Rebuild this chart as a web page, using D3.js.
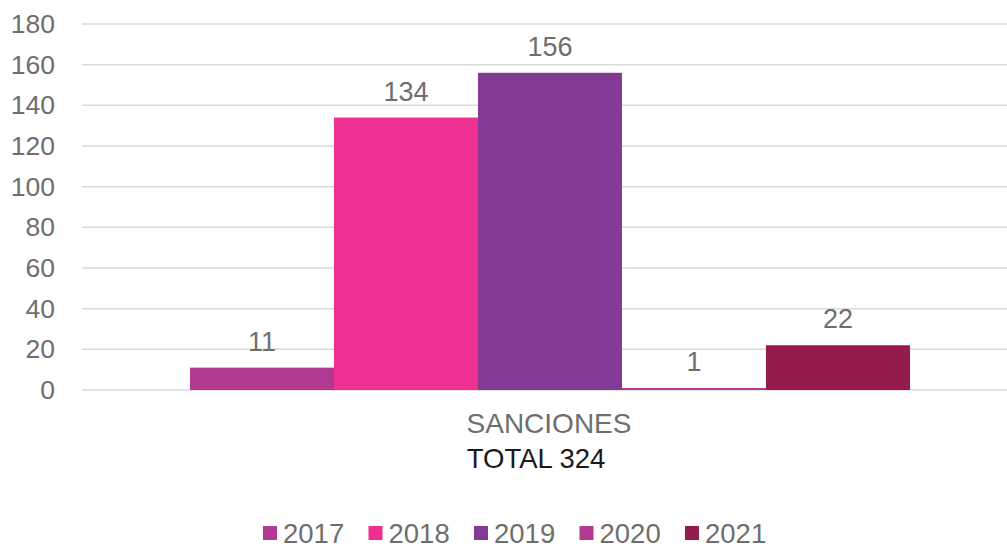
<!DOCTYPE html>
<html>
<head>
<meta charset="utf-8">
<script src="https://cdn.jsdelivr.net/npm/d3@7"></script>
<style>
  body { margin: 0; background: #fff; }
  svg { display: block; font-family: "Liberation Sans", Arial, sans-serif; }
</style>
</head>
<body>
<svg id="chart" width="1007" height="546"></svg>
<script>
const years = ["2017", "2018", "2019", "2020", "2021"];
const values = [11, 134, 156, 1, 22];
const colors = ["#B33A93", "#EE3190", "#833A94", "#B33A93", "#951B4F"];
const yTicks = [0, 20, 40, 60, 80, 100, 120, 140, 160, 180];
const category = "SANCIONES";
const totalLabel = "TOTAL 324";

const svg = d3.select("#chart");
const textColor = "#6e6e6e";

const y = d3.scaleLinear().domain([0, 180]).range([390, 24]);
const x = d3.scaleBand().domain(years).range([190, 910]).padding(0);

// Gridlines
svg.append("g")
    .selectAll("line")
    .data(yTicks)
    .join("line")
    .attr("x1", 82)
    .attr("x2", 1007)
    .attr("y1", d => y(d))
    .attr("y2", d => y(d))
    .attr("stroke", "#d9d9d9")
    .attr("stroke-width", 1.5);

// Y axis labels
const yAxis = svg.append("g")
    .attr("transform", "translate(55,0)")
    .call(d3.axisLeft(y).tickValues(yTicks).tickSize(0).tickPadding(0));
yAxis.select(".domain").remove();
yAxis.selectAll("text")
    .attr("fill", textColor)
    .style("font-size", "26.5px")
    .style("font-family", "'Liberation Sans', Arial, sans-serif");

// Bars
svg.append("g")
    .selectAll("rect")
    .data(years)
    .join("rect")
    .attr("x", d => x(d))
    .attr("width", x.bandwidth())
    .attr("y", (d, i) => y(values[i]))
    .attr("height", (d, i) => y(0) - y(values[i]))
    .attr("fill", (d, i) => colors[i]);

// Value labels
svg.append("g")
    .selectAll("text")
    .data(years)
    .join("text")
    .attr("x", d => x(d) + x.bandwidth() / 2)
    .attr("y", (d, i) => y(values[i]) - 17)
    .attr("text-anchor", "middle")
    .attr("fill", textColor)
    .style("font-size", "27px")
    .text((d, i) => values[i]);

// Category labels
svg.append("text")
    .attr("x", 549)
    .attr("y", 433)
    .attr("text-anchor", "middle")
    .attr("fill", textColor)
    .style("font-size", "28px")
    .text(category);

svg.append("text")
    .attr("x", 536)
    .attr("y", 468)
    .attr("text-anchor", "middle")
    .attr("fill", "#1a1a1a")
    .style("font-size", "27.5px")
    .text(totalLabel);

// Legend
const legend = svg.append("g")
    .selectAll("g")
    .data(years)
    .join("g")
    .attr("transform", (d, i) => `translate(${263 + i * 105.5},526)`);

legend.append("rect")
    .attr("width", 14)
    .attr("height", 14)
    .attr("fill", (d, i) => colors[i]);

legend.append("text")
    .attr("x", 20)
    .attr("y", 17)
    .attr("fill", textColor)
    .style("font-size", "27.5px")
    .text(d => d);
</script>
</body>
</html>
